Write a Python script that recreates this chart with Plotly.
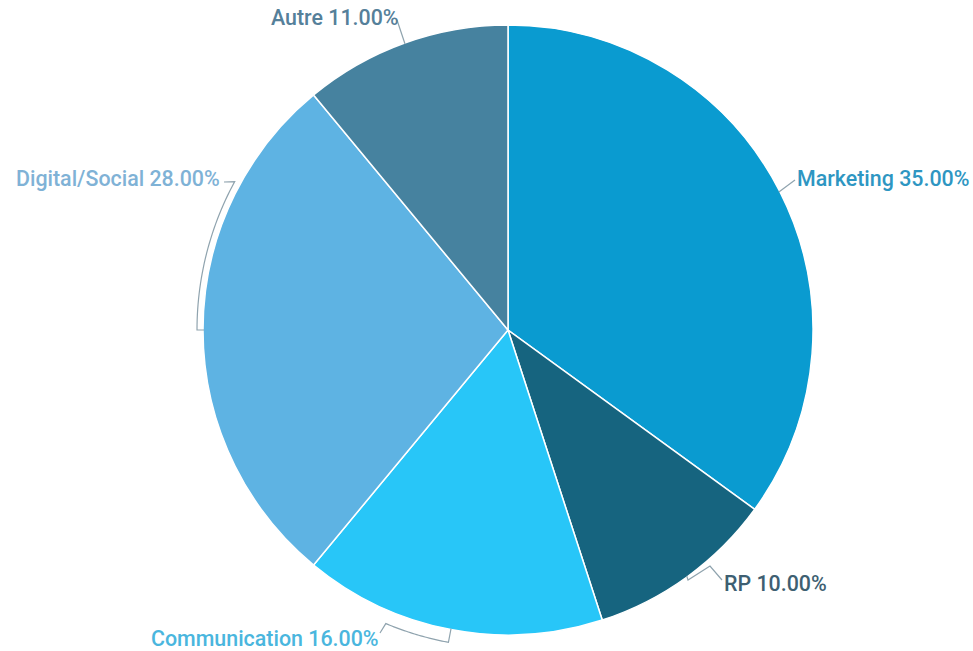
import math
import plotly.graph_objects as go

# Budget split by domain
categories = ["Marketing", "RP", "Communication", "Digital/Social", "Autre"]
shares = [35.00, 10.00, 16.00, 28.00, 11.00]

slice_colors = ["#0A9BD0", "#16647F", "#28C6F8", "#5EB3E3", "#46829F"]
label_colors = ["#2E96C2", "#3E5F72", "#4AB6DE", "#7FB2D6", "#55809A"]

W, H = 973, 651
CX, CY, R = 508, 330, 305          # pie centre and radius in page pixels
TOP, BOTTOM = CY - R, H - (CY + R)

# label placement (page pixels): text anchor, alignment, leader-line waypoints
label_layout = {
    "Marketing":      dict(x=795, y=178, anchor="left",  path=[(795, 180)]),
    "RP":             dict(x=722, y=583, anchor="left",  path=[(688, 580), (710, 566), (722, 580)]),
    "Communication":  dict(x=381, y=638, anchor="right", arc=(202.6, 318), path=[(380, 633)]),
    "Digital/Social": dict(x=222, y=178, anchor="right", arc=(298.5, 311), path=[(224, 182)]),
    "Autre":          dict(x=401, y=18,  anchor="right", path=[(397, 20)]),
}


def paper(px, py):
    return px / W, (H - BOTTOM - py) / (H - TOP - BOTTOM)


def polar(angle_deg, radius):
    a = math.radians(angle_deg)
    return CX + radius * math.sin(a), CY - radius * math.cos(a)


fig = go.Figure(
    go.Pie(
        labels=categories,
        values=shares,
        sort=False,
        direction="clockwise",
        rotation=0,
        marker=dict(colors=slice_colors, line=dict(color="white", width=1.5)),
        textinfo="none",
        hoverinfo="label+percent",
        domain=dict(x=[2 * CX / W - 1, 1], y=[0, 1]),
        showlegend=False,
    )
)

total = sum(shares)
cum = 0.0
shapes, annotations = [], []
for name, val, lc in zip(categories, shares, label_colors):
    mid = (cum + val / 2) / total * 360
    cum += val
    spec = label_layout[name]
    pts = [polar(mid, R - 1)]
    if "arc" in spec:
        end_ang, rr = spec["arc"]
        pts.append(polar(mid, rr))
        steps = 30
        for i in range(1, steps + 1):
            pts.append(polar(mid + (end_ang - mid) * i / steps, rr))
    pts += spec["path"]
    d = ""
    for i, (px, py) in enumerate(pts):
        xp, yp = paper(px, py)
        d += ("M" if i == 0 else "L") + f"{xp:.5f},{yp:.5f} "
    shapes.append(dict(type="path", xref="paper", yref="paper", path=d,
                       line=dict(color="#8FA3AE", width=1.2), layer="above"))
    tx, ty = paper(spec["x"], spec["y"])
    annotations.append(dict(
        x=tx, y=ty, xref="paper", yref="paper",
        text=f"{name} {val:.2f}%", showarrow=False,
        xanchor=spec["anchor"], yanchor="middle",
        font=dict(family="Roboto", size=21.4, weight=500, color=lc),
    ))

fig.update_layout(
    width=W, height=H,
    margin=dict(l=0, r=0, t=TOP, b=BOTTOM),
    paper_bgcolor="white", plot_bgcolor="white",
    shapes=shapes, annotations=annotations,
)

fig.write_html("out.html")
